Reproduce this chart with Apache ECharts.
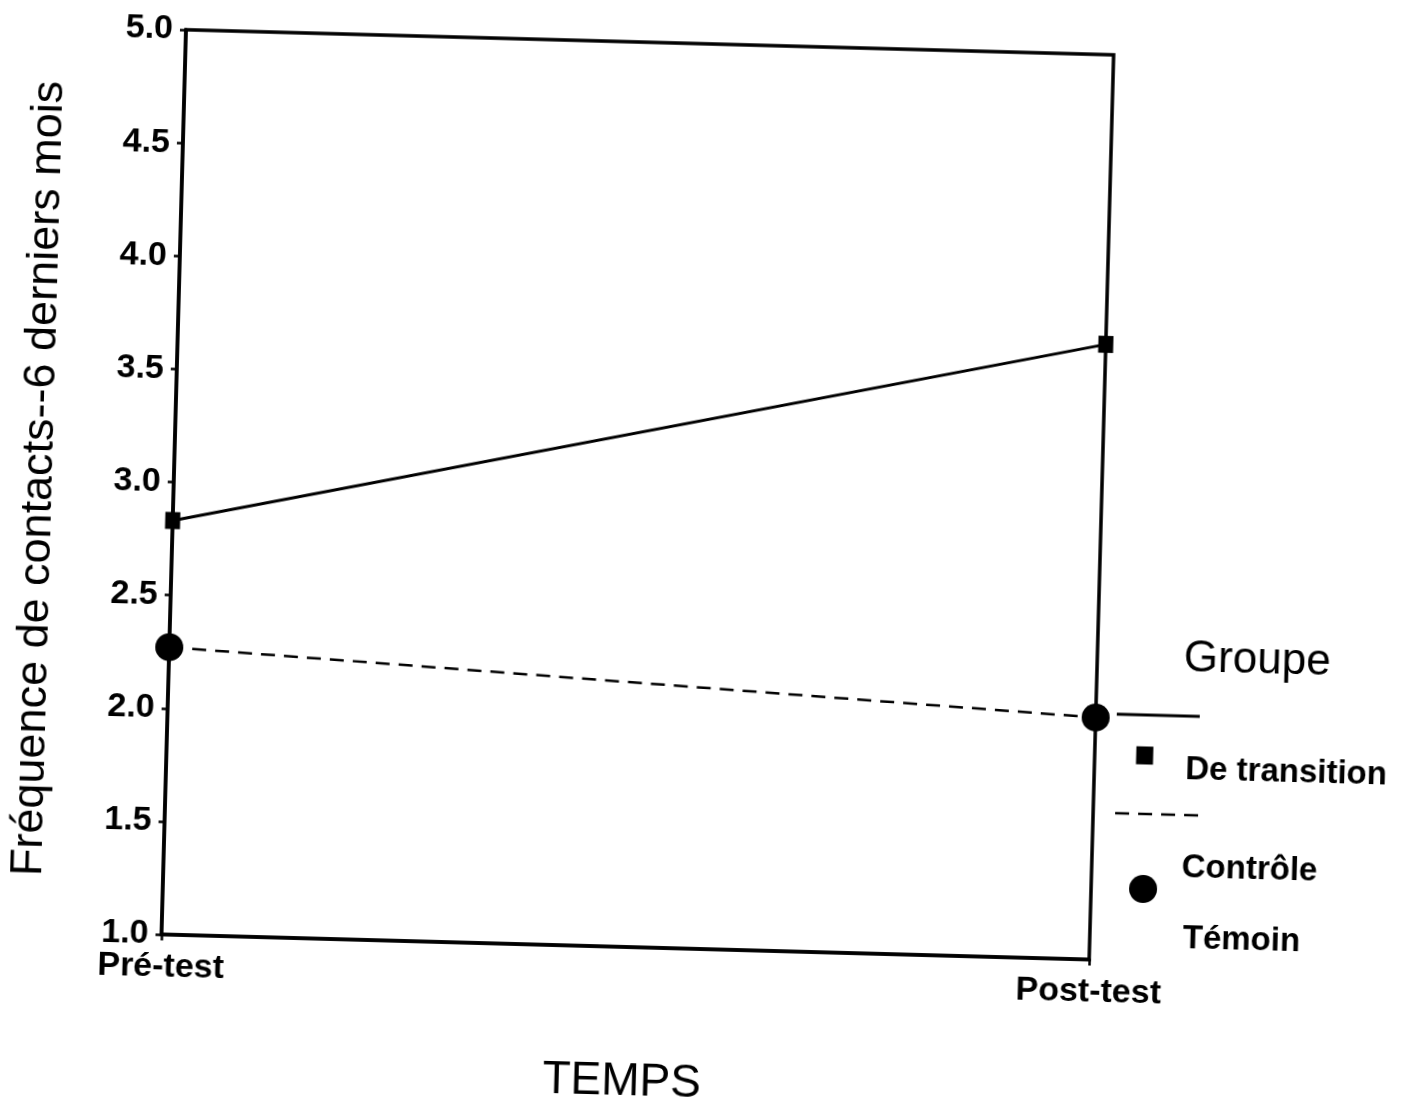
<!DOCTYPE html>
<html>
<head>
<meta charset="utf-8">
<script src="https://cdn.jsdelivr.net/npm/echarts@6/dist/echarts.min.js"></script>
<style>
  html, body { margin: 0; padding: 0; background: #ffffff; overflow: hidden; }
  #chart { width: 1411px; height: 1107px; transform: rotate(1.55deg); transform-origin: 50% 50%; }
</style>
</head>
<body>
<div id="chart"></div>
<script>
// ---- data ----
const categories = ['Pré-test', 'Post-test'];
const seriesNames = ['De transition', 'Contrôle'];
const transitionValues = [2.83, 3.72];
const controleValues = [2.27, 2.07];
const yTicks = [1.0, 1.5, 2.0, 2.5, 3.0, 3.5, 4.0, 4.5, 5.0];
const legendTitle = 'Groupe';
const legendExtraLine = 'Témoin';
const xTitle = 'TEMPS';
const yTitle = 'Fréquence de contacts--6 derniers mois';

const FONT = "'Liberation Sans', Arial, Helvetica, sans-serif";
const chart = echarts.init(document.getElementById('chart'), null, { renderer: 'canvas' });

const option = {
  backgroundColor: '#ffffff',
  animation: false,
  textStyle: { fontFamily: FONT, color: '#000' },
  grid: {
    left: 172, right: 311, top: 44, bottom: 158,
    show: true, borderColor: '#000', borderWidth: 3.5,
    containLabel: false, outerBoundsMode: 'none'
  },
  xAxis: {
    type: 'category',
    data: categories,
    boundaryGap: false,
    name: xTitle,
    nameLocation: 'middle',
    nameGap: 112,
    nameTextStyle: { fontSize: 46, fontFamily: FONT, color: '#000' },
    axisLine: { show: true, lineStyle: { color: '#000', width: 3.5 } },
    axisTick: { show: true, length: 6, lineStyle: { color: '#000', width: 2.5 } },
    axisLabel: { fontSize: 34, fontWeight: 'bold', color: '#000', margin: 16, fontFamily: FONT },
    splitLine: { show: false }
  },
  yAxis: {
    type: 'value',
    min: yTicks[0],
    max: yTicks[yTicks.length - 1],
    interval: 0.5,
    name: yTitle,
    nameLocation: 'middle',
    nameRotate: 90,
    nameGap: 112,
    nameTextStyle: { fontSize: 45, fontFamily: FONT, color: '#000' },
    axisLine: { show: true, lineStyle: { color: '#000', width: 3.5 } },
    axisTick: { show: true, length: 6, lineStyle: { color: '#000', width: 2.5 } },
    axisLabel: {
      fontSize: 34, fontWeight: 'bold', color: '#000', margin: 13, fontFamily: FONT,
      formatter: v => v.toFixed(1)
    },
    splitLine: { show: false }
  },
  series: [
    {
      name: seriesNames[0],
      type: 'line',
      data: transitionValues,
      symbol: 'rect',
      symbolSize: [15, 17],
      clip: false,
      itemStyle: { color: '#000' },
      lineStyle: { color: '#000', width: 3, type: 'solid' },
      z: 3
    },
    {
      name: seriesNames[1],
      type: 'line',
      data: controleValues,
      symbol: 'circle',
      symbolSize: 28,
      clip: false,
      itemStyle: { color: '#000' },
      lineStyle: { color: '#000', width: 2.5, type: [14, 9] },
      z: 3
    }
  ],
  graphic: [
    { type: 'text', style: { text: legendTitle, x: 1260, y: 646, font: '44px ' + FONT, fill: '#000', align: 'center', verticalAlign: 'middle' } },
    { type: 'line', shape: { x1: 1121, y1: 703, x2: 1204, y2: 703 }, style: { stroke: '#000', lineWidth: 3 } },
    { type: 'rect', shape: { x: 1141.5, y: 734.5, width: 17, height: 18 }, style: { fill: '#000' } },
    { type: 'text', style: { text: seriesNames[0], x: 1191, y: 757, font: 'bold 33px ' + FONT, fill: '#000', align: 'left', verticalAlign: 'middle' } },
    { type: 'line', shape: { x1: 1122, y1: 802, x2: 1205, y2: 802 }, style: { stroke: '#000', lineWidth: 2.5, lineDash: [14, 9] } },
    { type: 'circle', shape: { cx: 1152, cy: 877, r: 14 }, style: { fill: '#000' } },
    { type: 'text', style: { text: seriesNames[1], x: 1190, y: 855, font: 'bold 33px ' + FONT, fill: '#000', align: 'left', verticalAlign: 'middle' } },
    { type: 'text', style: { text: legendExtraLine, x: 1193, y: 926, font: 'bold 33px ' + FONT, fill: '#000', align: 'left', verticalAlign: 'middle' } }
  ]
};
chart.setOption(option);
</script>
</body>
</html>
